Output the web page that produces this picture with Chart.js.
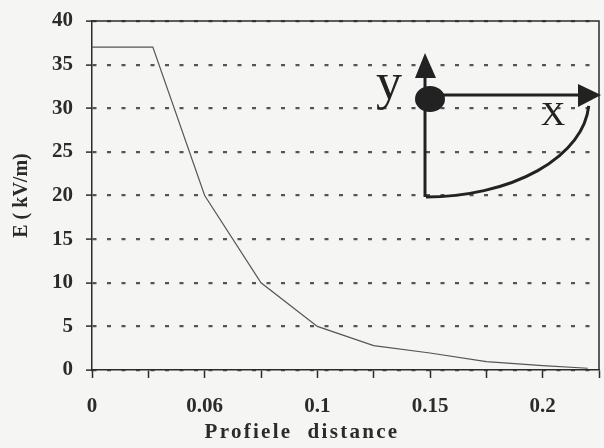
<!DOCTYPE html>
<html>
<head>
  <meta charset="UTF-8">
  <title>E profile</title>
  <script src="https://cdn.jsdelivr.net/npm/chart.js"></script>
  <style>
    body {
      margin: 0;
      padding: 0;
      background-color: #f5f5f3;
    }
    #marco {
      width: 604px;
      height: 448px;
    }
  </style>
</head>
<body>
  <div id="marco">
    <canvas id="grafico"></canvas>
  </div>

  <script>
    // campo E a lo largo del perfil
    var distancia = [0, 0.027, 0.05, 0.075, 0.1, 0.125, 0.15, 0.175, 0.2, 0.22];
    var campoE = [37, 37, 20, 10, 5, 2.8, 1.95, 0.95, 0.5, 0.2];

    // etiquetas del eje x, una por cada marca de 0.025
    var etiquetasX = ['0', '', '0.06', '', '0.1', '', '0.15', '', '0.2', ''];
    var tituloX = 'Profiele  distance';

    var puntos = distancia.map(function (d, i) {
      return { x: d, y: campoE[i] };
    });

    var fuenteEjes = { family: 'Liberation Serif', size: 21, weight: 'bold' };

    // marco del area, titulo x espaciado y esquema de ejes x/y
    var dibujoExtra = {
      id: 'dibujoExtra',
      afterDraw: function (chart) {
        var ctx = chart.ctx;
        var a = chart.chartArea;
        ctx.save();
        ctx.strokeStyle = '#2b2b2b';
        ctx.lineWidth = 1.5;
        ctx.beginPath();
        ctx.moveTo(a.left, a.top);
        ctx.lineTo(a.right, a.top);
        ctx.lineTo(a.right, a.bottom);
        ctx.stroke();

        ctx.fillStyle = '#2b2b2b';
        ctx.font = 'bold 21px "Liberation Serif"';
        ctx.letterSpacing = '2.3px';
        ctx.textAlign = 'center';
        ctx.textBaseline = 'middle';
        ctx.fillText(tituloX, 302, 433);
        ctx.letterSpacing = '0px';

        // esquema
        ctx.strokeStyle = '#222';
        ctx.fillStyle = '#222';
        ctx.lineWidth = 3;
        ctx.beginPath();
        ctx.moveTo(425, 197);
        ctx.lineTo(425, 74);
        ctx.stroke();
        ctx.beginPath();
        ctx.moveTo(425, 53);
        ctx.lineTo(415, 78);
        ctx.lineTo(436, 78);
        ctx.closePath();
        ctx.fill();

        ctx.beginPath();
        ctx.moveTo(430, 95);
        ctx.lineTo(582, 95);
        ctx.stroke();
        ctx.beginPath();
        ctx.moveTo(601, 95);
        ctx.lineTo(578, 84);
        ctx.lineTo(578, 107);
        ctx.closePath();
        ctx.fill();

        ctx.beginPath();
        ctx.ellipse(426, 100, 163, 97, 0, 0.06, Math.PI / 2);
        ctx.stroke();

        ctx.beginPath();
        ctx.ellipse(430, 99, 15, 13, 0, 0, Math.PI * 2);
        ctx.fill();

        ctx.font = '52px "Liberation Serif"';
        ctx.textAlign = 'center';
        ctx.textBaseline = 'alphabetic';
        ctx.fillText('y', 389, 99);
        ctx.font = '34px "Liberation Serif"';
        ctx.fillText('X', 553, 125);
        ctx.restore();
      }
    };

    var ctx = document.getElementById('grafico').getContext('2d');
    var grafico = new Chart(ctx, {
      type: 'scatter',
      data: {
        datasets: [{
          data: puntos,
          showLine: true,
          borderColor: '#555',
          borderWidth: 1.2,
          pointRadius: 0,
          tension: 0
        }]
      },
      options: {
        responsive: true,
        maintainAspectRatio: false,
        animation: false,
        layout: {
          padding: { top: 21, right: 5, left: 0, bottom: 0 }
        },
        plugins: {
          legend: { display: false },
          tooltip: { enabled: false }
        },
        scales: {
          x: {
            type: 'linear',
            min: 0,
            max: 0.225,
            afterFit: function (s) {
              s.height = 78;
              s.paddingLeft = 0;
              s.paddingRight = 0;
            },
            border: { display: true, color: '#2b2b2b', width: 1.5 },
            grid: {
              drawOnChartArea: false,
              drawTicks: true,
              tickLength: 8,
              tickColor: '#2b2b2b',
              tickWidth: 1.5
            },
            ticks: {
              stepSize: 0.025,
              autoSkip: false,
              maxRotation: 0,
              padding: 16,
              color: '#2b2b2b',
              font: fuenteEjes,
              callback: function (valor) {
                var i = Math.round(valor / 0.025);
                return etiquetasX[i] !== undefined ? etiquetasX[i] : '';
              }
            }
          },
          y: {
            min: 0,
            max: 40,
            afterFit: function (s) {
              s.width = 92;
              s.paddingTop = 0;
              s.paddingBottom = 0;
            },
            border: { display: true, color: '#2b2b2b', width: 1.5, dash: [4, 10.5] },
            grid: {
              color: '#555',
              lineWidth: 2.2,
              drawTicks: true,
              tickLength: 6,
              tickColor: '#2b2b2b',
              tickWidth: 1.5
            },
            ticks: {
              stepSize: 5,
              padding: 13,
              color: '#2b2b2b',
              font: fuenteEjes
            },
            title: {
              display: true,
              text: 'E ( kV/m)',
              color: '#2b2b2b',
              font: { family: 'Liberation Serif', size: 20, weight: 'bold' },
              padding: { top: 10, bottom: 0 }
            }
          }
        }
      },
      plugins: [dibujoExtra]
    });
  </script>
</body>
</html>
